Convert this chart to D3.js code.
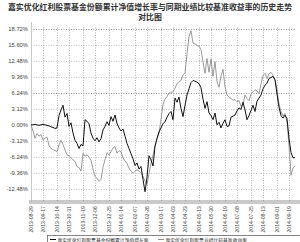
<!DOCTYPE html>
<html>
<head>
<meta charset="utf-8">
<script src="https://cdn.jsdelivr.net/npm/d3@7"></script>
<style>
  body { margin: 0; background: #fff; }
  svg { display: block; }
</style>
</head>
<body>
<svg id="chart"></svg>
<script>
const titleLines = ["嘉实优化红利股票基金份额累计净值增长率与同期业绩比较基准收益率的历史走势", "对比图"]
const seriesNames = ["嘉实优化红利股票基金份额累计净值增长率", "嘉实优化红利股票业绩比较基准收益率"]

// y ticks (%)
const yTicks = [18.72, 15.60, 12.48, 9.36, 6.24, 3.12, 0.00, -3.12, -6.24, -9.36, -12.48]

// x tick labels and the sample index each one sits on
const xLabels = ["2013-08-29", "2013-09-17", "2013-10-14", "2013-10-31", "2013-11-19", "2013-12-06", "2013-12-25",
    "2014-01-14", "2014-02-07", "2014-02-26", "2014-03-17", "2014-04-03", "2014-04-23", "2014-05-13",
    "2014-05-30", "2014-06-19", "2014-07-08", "2014-07-25", "2014-08-13", "2014-09-01", "2014-09-19"]
const xTickIdx = [0, 6, 13, 19, 26, 32, 39, 45, 52, 58, 65, 71, 77, 84, 90, 97, 103, 110, 116, 123, 129]

// fund cumulative NAV growth (%)
const fund = [0, 0, 0.1, 0, -0.1, 0, 0.1, 0, -0.1, -0.2, -0.4, -0.5, -0.7, -0.6, 1.8, 2.9, 3.8, 1.5, 2.2, -0.3,
    0.4, -1.6, -3.0, -3.6, -4.6, -3.8, -4.1, 1.0, 0.7, 0.2, -1.6, -2.6, -3.1, -2.5, -3.3, -2.7, -1.0, -0.3, 0.6, -0.1,
    1.6, 0.7, 1.9, 0.3, -0.6, -1.2, -0.8, -2.2, -3.6, -4.6, -5.6, -6.6, -7.9, -7.4, -8.6, -8.1, -10.6, -13.0, -10.2, -6.0,
    -6.8, -8.0, -4.2, -2.6, -1.4, -0.6, 0.2, 0.6, 1.5, 2.2, 2.6, 1.0, 5.2, 4.4, 5.4, 3.2, 1.6, 3.8, 5.8, 7.0,
    8.2, 8.6, 8.5, 8.3, 8.0, 7.2, 5.0, 3.2, 4.5, 2.3, 1.8, 1.0, 2.3, 0.0, 0.5, -0.6, 0.3, 1.0, -0.3, -0.2,
    1.5, 1.7, 1.9, 2.7, 3.3, 3.0, 4.4, 2.9, 1.0, 1.8, 2.8, 3.8, 2.6, 4.6, 5.2, 5.8, 7.0, 7.7, 8.1, 9.0,
    9.2, 9.4, 8.7, 6.0, 3.4, 1.8, 1.3, 1.9, 1.2, -2.6, -5.4, -6.4, -6.4]

// benchmark return (%)
const bench = [0, -1.2, -2.6, -1.7, -2.2, -1.9, -2.9, -2.6, -2.4, -4.0, -4.6, -4.8, -5.0, -5.2, -3.9, -3.0, -3.8, -4.9, -5.8, -6.0,
    -6.4, -6.8, -7.1, -8.1, -8.3, -9.0, -5.5, -6.1, -5.8, -6.3, -6.9, -8.6, -10.0, -10.4, -11.0, -10.6, -8.2, -6.8, -5.4, -5.9,
    -5.2, -4.5, -4.2, -5.5, -5.0, -5.2, -6.4, -7.0, -7.5, -8.4, -9.0, -9.4, -9.0, -8.7, -9.0, -9.4, -10.0, -11.0, -11.6, -9.5,
    -7.5, -6.0, -4.0, -2.8, -1.6, 1.0, 4.0, 5.0, 5.5, 6.2, 6.2, 6.4, 7.1, 8.0, 8.4, 8.6, 9.7, 10.1, 13.8, 17.2,
    18.3, 15.9, 15.7, 15.5, 15.3, 14.6, 12.2, 10.0, 12.9, 10.2, 12.8, 9.4, 12.3, 8.4, 7.3, 9.5, 10.8, 7.4, 5.8, 5.4,
    5.1, 4.8, 4.9, 4.5, 4.7, 3.6, 3.9, 5.8, 5.1, 4.7, 6.0, 6.4, 6.8, 6.6, 6.0, 7.9, 9.6, 10.0, 9.0, 9.9,
    10.2, 9.6, 8.8, 6.8, 4.0, 2.6, 1.7, 2.2, 0.6, -4.0, -9.8, -8.4, -7.9]

const width = 300, height = 242
const margin = {left: 31, right: 5, top: 28.5, bottom: 41}
const svg = d3.select("#chart").attr("width", width).attr("height", height)
const cjk = "'Noto Sans CJK SC', sans-serif"

const x = d3.scaleLinear().domain([0, fund.length - 1]).range([margin.left, width - margin.right])
const y = d3.scaleLinear().domain([-14.8, 18.72]).range([height - margin.bottom, margin.top])

// title
svg.append("g").selectAll("text")
    .data(titleLines)
    .join("text")
    .attr("x", width / 2)
    .attr("y", (d, i) => 9.5 + i * 10.5)
    .attr("text-anchor", "middle")
    .attr("font-family", cjk)
    .attr("font-weight", "bold")
    .attr("font-size", 7.9)
    .attr("fill", "#333")
    .text(d => d)

// horizontal grid
svg.append("g").selectAll("line")
    .data(yTicks)
    .join("line")
    .attr("x1", margin.left).attr("x2", width - margin.right)
    .attr("y1", d => Math.round(y(d)) + 0.5).attr("y2", d => Math.round(y(d)) + 0.5)
    .attr("stroke", d => (d === 6.24 || d === 18.72) ? "#777" : "#b5b5b5")
    .attr("stroke-width", 0.8)
    .attr("stroke-dasharray", "1,1.5")

// vertical grid
svg.append("g").selectAll("line")
    .data(xTickIdx.slice(1))
    .join("line")
    .attr("x1", d => Math.round(x(d)) + 0.5).attr("x2", d => Math.round(x(d)) + 0.5)
    .attr("y1", margin.top - 1).attr("y2", height - margin.bottom)
    .attr("stroke", "#a0a0a0")
    .attr("stroke-width", 0.8)
    .attr("stroke-dasharray", "1,1.5")

// left axis line
svg.append("line")
    .attr("x1", margin.left + 0.5).attr("x2", margin.left + 0.5)
    .attr("y1", 22).attr("y2", height - margin.bottom)
    .attr("stroke", "#c8c8c8")

// y labels
svg.append("g").selectAll("text")
    .data(yTicks)
    .join("text")
    .attr("x", 28)
    .attr("y", d => y(d) + 2)
    .attr("text-anchor", "end")
    .attr("font-family", "Arial, 'Liberation Sans', sans-serif")
    .attr("font-size", 5.8)
    .attr("fill", "#444")
    .text(d => d.toFixed(2) + "%")

// bottom axis: double line
const axisY = height - margin.bottom
;[0, 2].forEach(off => {
    svg.append("line")
        .attr("x1", margin.left - 2).attr("x2", width)
        .attr("y1", axisY + off).attr("y2", axisY + off)
        .attr("stroke", "#888").attr("stroke-width", 0.9)
})

// x labels (rotated)
svg.append("g").selectAll("text")
    .data(xTickIdx)
    .join("text")
    .attr("transform", d => `translate(${x(d) + 2},${axisY + 5}) rotate(-90)`)
    .attr("text-anchor", "end")
    .attr("font-family", "Arial, 'Liberation Sans', sans-serif")
    .attr("font-size", 5.2)
    .attr("fill", "#444")
    .text((d, i) => xLabels[i])

// series
const line = d3.line().x((d, i) => x(i)).y(d => y(d))
svg.append("path").datum(bench)
    .attr("d", line).attr("fill", "none")
    .attr("stroke", "#8e8e8e").attr("stroke-width", 0.9)
svg.append("path").datum(fund)
    .attr("d", line).attr("fill", "none")
    .attr("stroke", "#111").attr("stroke-width", 1)

// legend
const leg = svg.append("g")
leg.append("rect")
    .attr("x", 47.5).attr("y", 235.5).attr("width", 260).attr("height", 20)
    .attr("fill", "none").attr("stroke", "#666").attr("stroke-width", 0.8)
const legItems = [{x: 50, color: "#111"}, {x: 158, color: "#8e8e8e"}]
legItems.forEach((it, i) => {
    leg.append("line")
        .attr("x1", it.x).attr("x2", it.x + 6)
        .attr("y1", 239.5).attr("y2", 239.5)
        .attr("stroke", it.color).attr("stroke-width", 1)
    leg.append("text")
        .attr("x", it.x + 7.5).attr("y", 241.5)
        .attr("font-family", cjk)
        .attr("font-size", 4.8)
        .attr("fill", "#222")
        .text(seriesNames[i])
})
</script>
</body>
</html>
